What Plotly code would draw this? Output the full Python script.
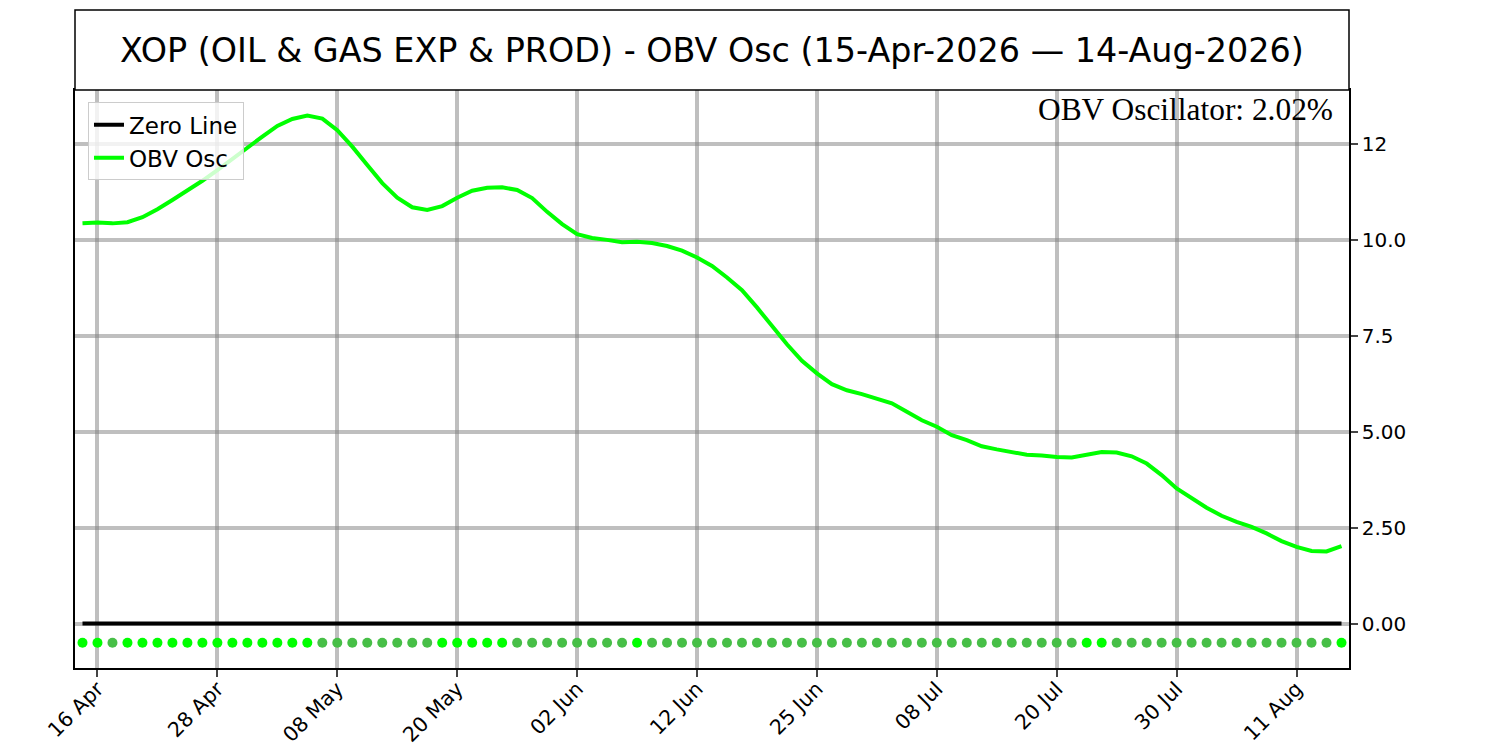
import pandas as pd
import plotly.graph_objects as go

Ticker = "XOP (OIL & GAS EXP & PROD)"
Holidays = ["2026-05-25", "2026-06-19", "2026-07-03"]
Dates = pd.bdate_range("2026-04-15", "2026-08-14", freq="C", holidays=Holidays)

ObvOsc = [10.43, 10.45, 10.43, 10.46, 10.59, 10.80, 11.04, 11.28, 11.54, 11.82,
          12.11, 12.43, 12.69, 12.97, 13.15, 13.24, 13.16, 12.86, 12.43, 11.95,
          11.48, 11.10, 10.85, 10.78, 10.88, 11.10, 11.28, 11.36, 11.37, 11.30,
          11.09, 10.73, 10.41, 10.15, 10.05, 10.00, 9.94, 9.95, 9.92, 9.84,
          9.72, 9.54, 9.32, 9.02, 8.69, 8.24, 7.75, 7.28, 6.85, 6.52,
          6.24, 6.08, 5.98, 5.87, 5.74, 5.52, 5.30, 5.13, 4.91, 4.78,
          4.62, 4.54, 4.47, 4.40, 4.38, 4.34, 4.33, 4.41, 4.47, 4.46,
          4.36, 4.17, 3.87, 3.52, 3.26, 3.02, 2.81, 2.65, 2.52, 2.35,
          2.15, 2.00, 1.89, 1.88, 2.02]

YTickVals = [0, 2.5, 5, 7.5, 10, 12.5]
YTickText = ["0.00", "2.50", "5.00", "7.5", "10.0", "12"]

Idx = list(range(len(Dates)))
TickIdx = Idx[1::8]
TickText = [Dates[i].strftime("%d %b") for i in TickIdx]

# bright dot when osc rose vs the day before, dull when it fell
DotColors = []
for i in Idx:
    if i == 0 or ObvOsc[i] > ObvOsc[i - 1]:
        DotColors.append("#00ff00")
    else:
        DotColors.append("#47bf47")

Font = "DejaVu Sans"
Grid = "rgba(128,128,128,0.5)"

fig = go.Figure()
fig.add_trace(go.Scatter(x=Idx, y=[0] * len(Idx), name="Zero Line", mode="lines",
                         line=dict(color="black", width=4)))
fig.add_trace(go.Scatter(x=Idx, y=ObvOsc, name="OBV Osc", mode="lines",
                         line=dict(color="#00ff00", width=4)))
fig.add_trace(go.Scatter(x=Idx, y=[-0.5] * len(Idx), mode="markers", showlegend=False,
                         marker=dict(color=DotColors, size=10)))

# title box above the plot
fig.add_shape(type="rect", xref="paper", yref="paper", x0=0, x1=1, y0=1, y1=1.1385,
              line=dict(color="black", width=1.5), fillcolor="white")
fig.add_annotation(xref="paper", yref="paper", x=0.5, y=1.0692, showarrow=False,
                   text=f"{Ticker} - OBV Osc ({Dates[0]:%d-%b-%Y} \u2014 {Dates[-1]:%d-%b-%Y})",
                   font=dict(family=Font, size=33.4, color="black"),
                   xanchor="center", yanchor="middle")
fig.add_annotation(xref="paper", yref="paper", x=0.9888, y=0.9654, showarrow=False,
                   text=f"OBV Oscillator: {ObvOsc[-1]:.2f}%",
                   font=dict(family="Liberation Serif", size=31.4, color="black"),
                   xanchor="right", yanchor="middle")

# page body has an 8px margin, so the figure is a bit smaller and shifted
fig.update_layout(
    width=1492, height=742,
    margin=dict(l=67, r=150.7, t=82, b=82.3, autoexpand=False),
    paper_bgcolor="white", plot_bgcolor="white",
    font=dict(family=Font, color="black"),
    legend=dict(x=0.0102, y=0.9787, xanchor="left", yanchor="top",
                bgcolor="rgba(255,255,255,0.8)", bordercolor="#cccccc", borderwidth=1,
                font=dict(size=23), itemwidth=30, tracegroupgap=0),
)
fig.update_xaxes(range=[-0.5, 84.5], tickmode="array", tickvals=TickIdx, ticktext=TickText,
                 tickangle=-45, tickfont=dict(size=20.5), ticks="outside", ticklen=7,
                 ticklabelstandoff=-8,
                 tickwidth=1.5, showgrid=True, gridcolor=Grid, gridwidth=4, automargin=False,
                 showline=True, linecolor="black", linewidth=1.5, mirror=True, zeroline=False)
fig.update_yaxes(range=[-1.158, 13.906], side="right", tickmode="array", tickvals=YTickVals,
                 ticktext=YTickText, tickfont=dict(size=20), ticks="outside", ticklen=7,
                 tickwidth=1.5, showgrid=True, gridcolor=Grid, gridwidth=4, automargin=False,
                 showline=True, linecolor="black", linewidth=1.5, mirror=True, zeroline=False)

fig.write_html("out.html")
